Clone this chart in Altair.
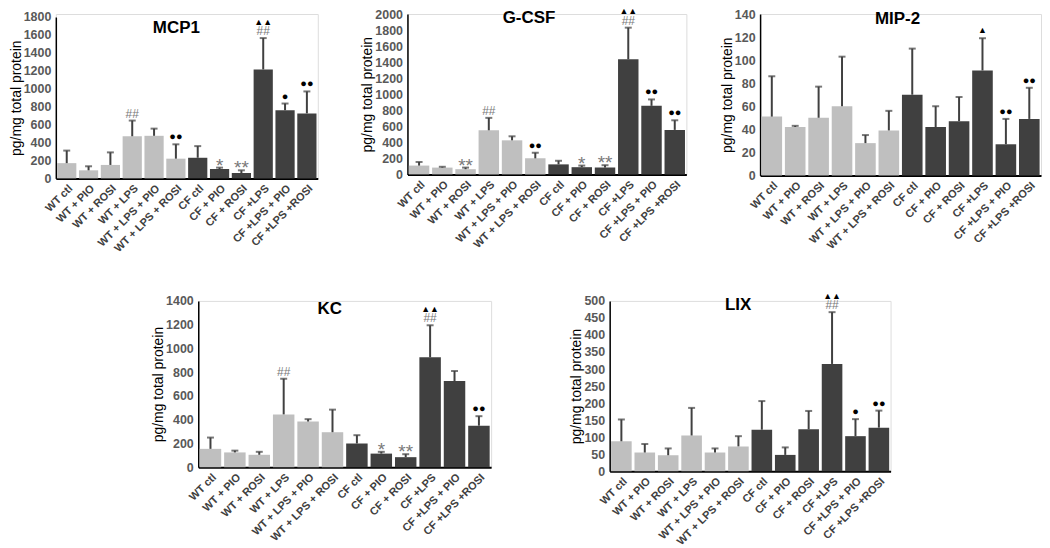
import altair as alt
import pandas as pd

FONT = "Liberation Sans"

categories = ["WT ctl", "WT + PIO", "WT + ROSI", "WT + LPS", "WT + LPS + PIO", "WT + LPS + ROSI",
              "CF ctl", "CF + PIO", "CF + ROSI", "CF +LPS", "CF +LPS + PIO", "CF +LPS +ROSI"]
genotype = ["WT", "WT", "WT", "WT", "WT", "WT", "CF", "CF", "CF", "CF", "CF", "CF"]

# MCP1
mcp1_mean = [170, 90, 150, 470, 475, 220, 230, 105, 60, 1215, 760, 725]
mcp1_err = [310, 135, 290, 645, 555, 380, 360, 120, 90, 1565, 835, 970]
mcp1_sig = ["", "", "", "##", "", "●●", "", "*", "**", "##", "●", "●●"]
mcp1_sig2 = ["", "", "", "", "", "", "", "", "", "▲▲", "", ""]
mcp1_ticks = [0, 200, 400, 600, 800, 1000, 1200, 1400, 1600, 1800]

# G-CSF
gcsf_mean = [110, 85, 65, 550, 425, 200, 125, 90, 85, 1435, 855, 555]
gcsf_err = [155, 95, 85, 705, 475, 270, 170, 110, 115, 1830, 935, 675]
gcsf_sig = ["", "", "**", "##", "", "●●", "", "*", "**", "##", "●●", "●●"]
gcsf_sig2 = ["", "", "", "", "", "", "", "", "", "▲▲", "", ""]
gcsf_ticks = [0, 200, 400, 600, 800, 1000, 1200, 1400, 1600, 1800, 2000]

# MIP-2
mip2_mean = [51, 42, 50, 60, 28, 39, 70, 42, 47, 91, 27, 49]
mip2_err = [86, 43, 77, 103, 35, 56, 110, 60, 68, 119, 49, 76]
mip2_sig = ["", "", "", "", "", "", "", "", "", "▲", "●●", "●●"]
mip2_sig2 = ["", "", "", "", "", "", "", "", "", "", "", ""]
mip2_ticks = [0, 20, 40, 60, 80, 100, 120, 140]

# KC
kc_mean = [155, 125, 105, 445, 385, 295, 200, 115, 85, 925, 725, 350]
kc_err = [250, 140, 130, 745, 405, 485, 270, 130, 110, 1195, 810, 430]
kc_sig = ["", "", "", "##", "", "", "", "*", "**", "##", "", "●●"]
kc_sig2 = ["", "", "", "", "", "", "", "", "", "▲▲", "", ""]
kc_ticks = [0, 200, 400, 600, 800, 1000, 1200, 1400]

# LIX
lix_mean = [88, 55, 47, 105, 55, 73, 122, 48, 123, 315, 103, 128]
lix_err = [152, 80, 67, 186, 67, 103, 206, 70, 177, 467, 153, 178]
lix_sig = ["", "", "", "", "", "", "", "", "", "##", "●", "●●"]
lix_sig2 = ["", "", "", "", "", "", "", "", "", "▲▲", "", ""]
lix_ticks = [0, 50, 100, 150, 200, 250, 300, 350, 400, 450, 500]

LIGHT = "#bfbfbf"
DARK = "#404040"


def kind_of(s):
    if s.startswith("#"):
        return "hash"
    if s.startswith("*"):
        return "star"
    if s.startswith("●"):
        return "dot"
    if s.startswith("▲"):
        return "tri"
    return ""


def panel(title, mean, err, sig, sig2, ticks, width, height, top_gap, tx, ty):
    df = pd.DataFrame({
        "group": categories, "geno": genotype, "mean": mean, "err": err,
        "sig": sig, "sig2": sig2,
        "kind": [kind_of(s) for s in sig],
        "kind2": [kind_of(s) for s in sig2],
    })
    x = alt.X("group:N", sort=categories, title=None,
              scale=alt.Scale(paddingInner=0.12, paddingOuter=0.06),
              axis=alt.Axis(labelAngle=-45, labelFontSize=11, labelFontWeight="bold",
                            labelColor="#404040", labelFont=FONT, ticks=False,
                            domainColor="black", domainWidth=2, labelPadding=4))
    yscale = alt.Scale(domain=[ticks[0], ticks[-1]], nice=False, zero=True,
                       range=[height, top_gap])
    yaxis = alt.Axis(values=ticks, format="d", labelOverlap=False,
                     title="pg/mg total protein", titleFontSize=14,
                     titleFontWeight="normal", titleColor="black", titleFont=FONT,
                     labelFontSize=12.5, labelFontWeight="bold", labelColor="#595959",
                     labelFont=FONT, ticks=False, grid=False, domainColor="black",
                     domainWidth=1.5, titlePadding=0, labelPadding=5)

    def Y(field):
        return alt.Y(f"{field}:Q", scale=yscale, axis=yaxis, title="pg/mg total protein")

    base = alt.Chart(df).encode(x=x)
    bars = base.mark_bar().encode(
        y=Y("mean"),
        color=alt.Color("geno:N", scale=alt.Scale(domain=["WT", "CF"], range=[LIGHT, DARK]),
                        legend=None),
    )
    stems = base.mark_rule(color=DARK, strokeWidth=2).encode(y=Y("mean"), y2="err:Q")
    caps = base.mark_tick(color=DARK, thickness=2, size=7).encode(y=Y("err"))

    def txt(field, kindfield, kind, size, color, dy):
        return base.transform_filter(alt.datum[kindfield] == kind).mark_text(
            fontSize=size, color=color, dy=dy, baseline="alphabetic", font=FONT
        ).encode(y=Y("err"), text=f"{field}:N")

    hashes = txt("sig", "kind", "hash", 12, "#7a7a7a", -3)
    stars = txt("sig", "kind", "star", 19, "#7a7a7a", 4)
    dots = txt("sig", "kind", "dot", 11, "black", -4)
    tris1 = txt("sig", "kind", "tri", 9, "black", -5)
    tris2 = txt("sig2", "kind2", "tri", 9, "black", -13.5)

    ttl = alt.Chart(pd.DataFrame({"t": [title]})).mark_text(
        fontSize=17, fontWeight="bold", font=FONT, color="black", baseline="alphabetic"
    ).encode(text="t:N", x=alt.value(tx), y=alt.value(ty))

    return alt.layer(bars, stems, caps, hashes, stars, dots, tris1, tris2, ttl).properties(
        width=width, height=height)


def spacer(w):
    return alt.Chart(pd.DataFrame({"v": [""]})).mark_text().encode(
        text="v:N", x=alt.value(0), y=alt.value(0)
    ).properties(width=w, height=10, view=alt.ViewBackground(stroke="transparent", strokeWidth=0))


mcp1 = panel("MCP1", mcp1_mean, mcp1_err, mcp1_sig, mcp1_sig2, mcp1_ticks, 263, 165, 3, 121, 19)
gcsf = panel("G-CSF", gcsf_mean, gcsf_err, gcsf_sig, gcsf_sig2, gcsf_ticks, 280, 161, 0, 122, 9)
mip2 = panel("MIP-2", mip2_mean, mip2_err, mip2_sig, mip2_sig2, mip2_ticks, 282, 162, 0, 138, 10)
kc = panel("KC", kc_mean, kc_err, kc_sig, kc_sig2, kc_ticks, 294, 167, 0, 132, 13)
lix = panel("LIX", lix_mean, lix_err, lix_sig, lix_sig2, lix_ticks, 282, 171, 0, 129, 9)

top = alt.hconcat(mcp1, spacer(90), gcsf, spacer(74), mip2, spacing=0, bounds="flush")
bottom = alt.hconcat(spacer(143), kc, spacer(119), lix, spacing=0, bounds="flush")

chart = alt.vconcat(top, bottom, spacing=36).properties(
    padding={"top": -3, "left": 0, "right": 0, "bottom": 0}
).configure_view(strokeWidth=0, stroke="transparent").configure(background="white")

chart.save("out.html", embed_options={"renderer": "svg", "actions": False})
